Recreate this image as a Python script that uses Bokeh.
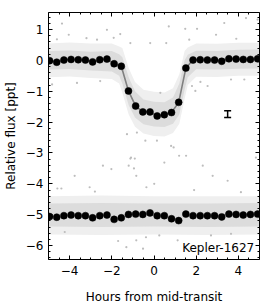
from bokeh.plotting import figure
from bokeh.models import (LinearAxis, SingleIntervalTicker, ColumnDataSource,
                          Whisker, TeeHead, Label, Range1d, CustomLabelingPolicy)
from bokeh.embed import file_html
from bokeh.resources import INLINE

# ---- binned light curve (hours from mid-transit, relative flux [ppt]) ----
bin_hours = [-4.95, -4.61, -4.27, -3.93, -3.59, -3.25, -2.91, -2.57, -2.23, -1.89,
             -1.55, -1.21, -0.87, -0.53, -0.19, 0.15, 0.49, 0.83, 1.17, 1.51,
             1.85, 2.19, 2.53, 2.87, 3.21, 3.55, 3.89, 4.23, 4.57, 4.91]
bin_transit = [-0.01, -0.06, 0.01, 0.03, 0.02, 0.01, -0.05, 0.02, 0.04, -0.11,
               -0.19, -0.99, -1.48, -1.67, -1.67, -1.80, -1.76, -1.69, -1.36, -0.25,
               0.01, 0.02, 0.01, 0.01, -0.03, 0.05, 0.04, 0.03, 0.03, 0.05]
bin_offset = [-5.06, -5.08, -5.03, -5.01, -5.03, -5.03, -5.10, -5.03, -5.01, -5.15,
              -5.10, -4.99, -4.98, -4.99, -4.94, -5.03, -5.03, -5.13, -5.19, -4.98,
              -5.03, -5.03, -5.03, -5.03, -5.07, -4.98, -4.99, -5.01, -4.99, -4.98]

# ---- spread of the unbinned data cloud ----
cloud_hours = [-5.0, -4.0, -3.0, -2.0, -1.65, -1.5, -1.2, -0.9, -0.5, 0.0,
               0.5, 0.9, 1.2, 1.45, 1.6, 2.0, 3.0, 4.0, 5.0]
top_inner_hi = [0.30, 0.32, 0.28, 0.30, 0.20, 0.10, -0.55, -1.00, -1.27, -1.34,
                -1.36, -1.20, -0.75, 0.00, 0.18, 0.31, 0.30, 0.34, 0.35]
top_inner_lo = [-0.30, -0.28, -0.33, -0.36, -0.50, -0.75, -1.45, -1.85, -2.07, -2.14,
                -2.16, -2.05, -1.75, -0.95, -0.55, -0.29, -0.30, -0.27, -0.26]
top_outer_hi = [0.55, 0.58, 0.55, 0.55, 0.45, 0.40, -0.25, -0.70, -0.95, -1.02,
                -1.04, -0.90, -0.45, 0.30, 0.42, 0.55, 0.54, 0.57, 0.57]
top_outer_lo = [-0.55, -0.52, -0.57, -0.60, -0.75, -1.05, -1.75, -2.15, -2.37, -2.45,
                -2.47, -2.35, -2.05, -1.25, -0.80, -0.53, -0.54, -0.50, -0.50]
bot_hours = [-5.0, -2.5, 0.0, 2.5, 5.0]
bot_inner_hi = [-4.64, -4.62, -4.64, -4.64, -4.62]
bot_inner_lo = [-5.38, -5.40, -5.38, -5.40, -5.38]
bot_outer_hi = [-4.40, -4.38, -4.40, -4.40, -4.40]
bot_outer_lo = [-5.64, -5.66, -5.64, -5.66, -5.64]

# ---- individual sparse points (outliers) ----
out_hours = [-4.36, -4.04, -2.23, -2.70, -1.91, -4.83, -2.55, -3.65, -1.28, -1.20,
             -0.95, 0.70, 1.48, 2.04, 0.58, -0.18, -1.12, 0.14, -0.41, 0.93,
             -0.81, 1.96, 1.80, 3.33, 1.67, 4.36, 4.91, 2.94, 0.81, 1.52,
             -1.09, 2.54, 3.65, 4.28, -3.20, -1.60, 3.90, 2.20, -4.60, 0.30,
             -2.42, -2.02, -1.12, -0.91, -3.76, -3.05, -4.58, -4.39, -0.84, -0.36,
             -1.31, -0.52, -0.84, -4.23, 1.19, 0.49, 2.31, 2.78, 0.01, 3.49,
             4.83, 4.12, 0.25, 1.12, 2.70, -0.38, 3.65, -2.80, -1.70, 1.90]
out_flux = [1.19, 0.83, 0.99, 0.67, 0.73, -0.78, -0.67, -0.73, -2.39, -3.41,
            -3.50, 1.10, 1.02, 1.02, 0.56, 0.56, 0.56, -2.60, -2.60, -2.82,
            -2.34, -0.99, -0.83, 1.21, 0.67, 1.37, 1.32, 0.83, -2.77, -3.09,
            -3.15, -0.83, -0.62, -0.62, 0.72, 0.85, 0.70, -0.70, 0.68, -1.05,
            -3.41, -3.52, -3.18, -3.18, -3.74, -4.11, -4.15, -4.15, -3.74, -4.11,
            -6.05, -6.10, -5.83, -5.56, -3.09, -3.31, -3.41, -3.74, -4.00, -3.90,
            -3.15, -4.27, -5.67, -5.83, -5.67, -5.73, -5.62, -4.25, -5.85, -4.20]

# ---- representative error bar ----
err_hours = [3.49]
err_flux = [-1.74]
err_size = [0.11]

# ---- ticks ----
x_tick_vals = [-4, -2, 0, 2, 4]
x_tick_labels = ["\u22124", "\u22122", "0", "2", "4"]
y_tick_vals = [-6, -5, -4, -3, -2, -1, 0, 1]
y_tick_labels = ["\u22126", "\u22125", "\u22124", "\u22123", "\u22122", "\u22121", "0", "1"]

FONT = "DejaVu Sans"

p = figure(frame_width=211, frame_height=247,
           x_range=Range1d(-5, 5), y_range=Range1d(-6.45, 1.55),
           output_backend="svg", toolbar_location=None,
           min_border_left=44, min_border_right=0, min_border_top=2, min_border_bottom=0)
p.xgrid.visible = False
p.ygrid.visible = False
p.outline_line_color = None
p.background_fill_color = "white"
p.border_fill_color = "white"

# data cloud
p.varea(x=cloud_hours, y1=top_outer_lo, y2=top_outer_hi, fill_color="#efefef")
p.varea(x=cloud_hours, y1=top_inner_lo, y2=top_inner_hi, fill_color="#dcdcdc")
p.varea(x=bot_hours, y1=bot_outer_lo, y2=bot_outer_hi, fill_color="#efefef")
p.varea(x=bot_hours, y1=bot_inner_lo, y2=bot_inner_hi, fill_color="#dcdcdc")
p.scatter(out_hours, out_flux, size=2.2, color="#bdbdbd", line_color=None)

# binned curve
p.line(bin_hours, bin_transit, line_color="#808080", line_width=1.6)
p.scatter(bin_hours, bin_transit, size=7, fill_color="black", line_color="black", line_width=0.5)
p.scatter(bin_hours, bin_offset, size=7, fill_color="black", line_color="black", line_width=0.5)

# error bar
esrc = ColumnDataSource(dict(x=err_hours,
                             lo=[f - e for f, e in zip(err_flux, err_size)],
                             hi=[f + e for f, e in zip(err_flux, err_size)]))
p.add_layout(Whisker(source=esrc, base="x", lower="lo", upper="hi", dimension="height",
                     line_color="black", line_width=1.5,
                     lower_head=TeeHead(size=7, line_color="black", line_width=1.5),
                     upper_head=TeeHead(size=7, line_color="black", line_width=1.5)))

p.add_layout(Label(x=4.75, y=-6.08, text="Kepler-1627", text_align="right",
                   text_baseline="alphabetic", text_font=FONT, text_font_size="12px",
                   text_color="black"))

xt = SingleIntervalTicker(interval=2, num_minor_ticks=4)
yt = SingleIntervalTicker(interval=1, num_minor_ticks=5)

def style(ax):
    ax.axis_line_color = "black"
    ax.axis_line_width = 1
    ax.major_tick_in = 4
    ax.major_tick_out = 0
    ax.minor_tick_in = 2
    ax.minor_tick_out = 0
    ax.major_tick_line_color = "black"
    ax.minor_tick_line_color = "black"
    ax.major_label_text_font = FONT
    ax.major_label_text_font_size = "12px"
    ax.major_label_text_color = "black"
    ax.axis_label_text_font = FONT
    ax.axis_label_text_font_size = "12px"
    ax.axis_label_text_font_style = "normal"
    ax.axis_label_text_color = "black"

xa = p.xaxis[0]
xa.ticker = xt
style(xa)
xa.major_label_overrides = dict(zip(x_tick_vals, x_tick_labels))
xa.axis_label = "Hours from mid-transit"
xa.major_label_standoff = 6
xa.axis_label_standoff = 12

ya = p.yaxis[0]
ya.ticker = yt
style(ya)
ya.major_label_overrides = dict(zip(y_tick_vals, y_tick_labels))
ya.axis_label = "Relative flux [ppt]"
ya.major_label_standoff = 5
ya.axis_label_standoff = 5

top_ax = LinearAxis(ticker=xt)
style(top_ax)
top_ax.major_label_policy = CustomLabelingPolicy(
    code="for (let i = 0; i < indices.size; i++) { indices.unset(i) } return indices")
top_ax.major_label_standoff = 0
p.add_layout(top_ax, "above")

right_ax = LinearAxis(ticker=yt)
style(right_ax)
right_ax.major_label_policy = CustomLabelingPolicy(
    code="for (let i = 0; i < indices.size; i++) { indices.unset(i) } return indices")
right_ax.major_label_standoff = 0
p.add_layout(right_ax, "right")

open("out.html", "w").write(file_html(p, INLINE))
